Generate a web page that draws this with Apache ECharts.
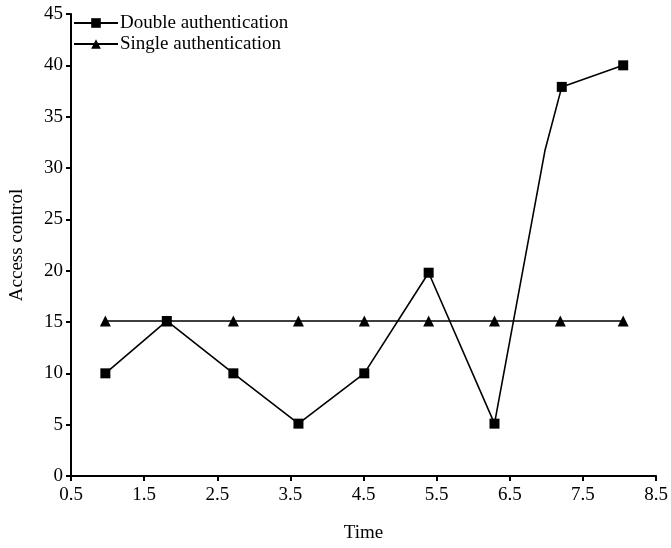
<!DOCTYPE html>
<html>
<head>
<meta charset="utf-8">
<script src="https://cdn.jsdelivr.net/npm/echarts@6/dist/echarts.min.js"></script>
<style>html,body{margin:0;padding:0;background:#fff}#c{width:671px;height:548px}</style>
</head>
<body>
<div id="c"></div>
<script>
var doubleX = [0.97, 1.81, 2.72, 3.61, 4.51, 5.39, 6.29, 6.98, 7.21, 8.05];
var doubleY = [10, 15.1, 10, 5.1, 10, 19.8, 5.1, 31.7, 37.9, 40];
var doubleMarked = [true, true, true, true, true, true, true, false, true, true];
var singleX = [0.97, 1.81, 2.72, 3.61, 4.51, 5.39, 6.29, 7.19, 8.05];
var singleY = [15.1, 15.1, 15.1, 15.1, 15.1, 15.1, 15.1, 15.1, 15.1];
var xTicks = [0.5, 1.5, 2.5, 3.5, 4.5, 5.5, 6.5, 7.5, 8.5];
var yTicks = [0, 5, 10, 15, 20, 25, 30, 35, 40, 45];

var font = 'Liberation Serif';
var fs = 19;
var chart = echarts.init(document.getElementById('c'));
var dData = doubleX.map(function (x, i) {
  var item = { value: [x, doubleY[i]] };
  if (!doubleMarked[i]) { item.symbol = 'none'; }
  return item;
});
var sData = singleX.map(function (x, i) { return [x, singleY[i]]; });
chart.setOption({
  animation: false,
  backgroundColor: '#fff',
  grid: { left: 71, right: 9, top: 14, bottom: 68 },
  legend: {
    orient: 'vertical', left: 73, top: 13, itemGap: 1, padding: 0,
    itemWidth: 44, itemHeight: 12,
    textStyle: { fontFamily: font, fontSize: fs, lineHeight: 20, color: '#000', padding: [0, 0, 0, -3] },
    data: ['Double authentication', 'Single authentication']
  },
  xAxis: {
    type: 'value', min: xTicks[0], max: xTicks[xTicks.length - 1], interval: 1,
    name: 'Time', nameLocation: 'middle', nameGap: 48,
    nameTextStyle: { fontFamily: font, fontSize: fs, color: '#000' },
    axisLine: { lineStyle: { color: '#000', width: 2 } },
    axisTick: { inside: false, length: 5, lineStyle: { color: '#000', width: 2 } },
    axisLabel: { fontFamily: font, fontSize: fs, color: '#000', margin: 10,
      formatter: function (v) { return v.toFixed(1); } },
    splitLine: { show: false }
  },
  yAxis: {
    type: 'value', min: yTicks[0], max: yTicks[yTicks.length - 1], interval: 5,
    name: 'Access control', nameLocation: 'middle', nameGap: 44,
    nameTextStyle: { fontFamily: font, fontSize: fs, color: '#000' },
    axisLine: { lineStyle: { color: '#000', width: 2 } },
    axisTick: { inside: false, length: 5, lineStyle: { color: '#000', width: 2 } },
    axisLabel: { fontFamily: font, fontSize: fs, color: '#000', margin: 8 },
    splitLine: { show: false }
  },
  series: [
    {
      name: 'Double authentication', type: 'line', data: dData,
      symbol: 'rect', symbolSize: 10, showAllSymbol: true,
      lineStyle: { color: '#000', width: 1.6 },
      itemStyle: { color: '#000' }
    },
    {
      name: 'Single authentication', type: 'line', data: sData,
      symbol: 'triangle', symbolSize: 11, showAllSymbol: true,
      lineStyle: { color: '#000', width: 1.6 },
      itemStyle: { color: '#000' }
    }
  ]
});
</script>
</body>
</html>
